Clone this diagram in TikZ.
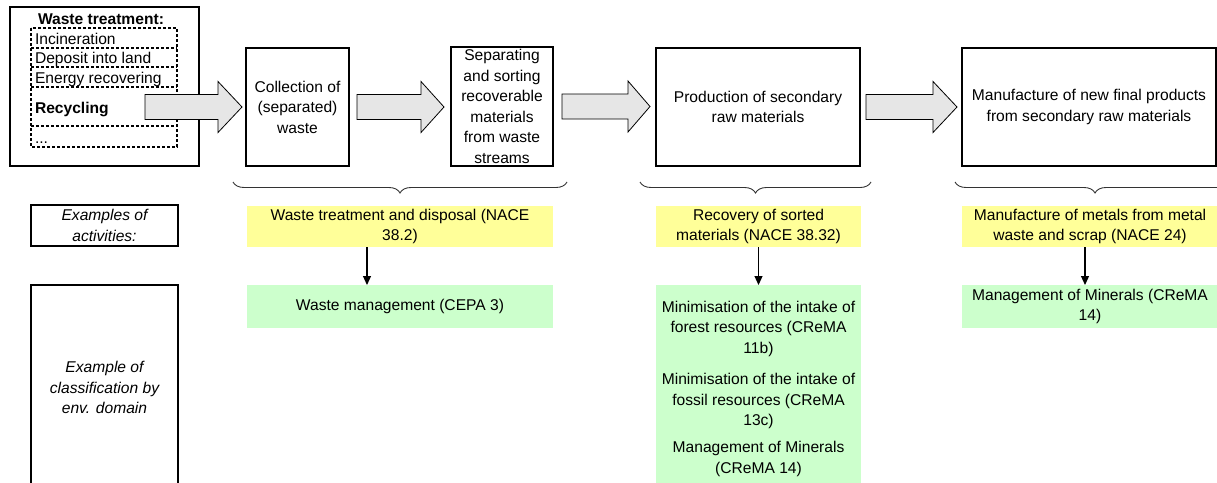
\documentclass[tikz,border=0pt]{standalone}
\usepackage{fontspec}
\setmainfont{Liberation Sans}
\usetikzlibrary{arrows.meta,calc,decorations.pathreplacing}
\definecolor{actyellow}{HTML}{FFFF99}
\definecolor{envgreen}{HTML}{CCFFCC}
\definecolor{arrowgray}{HTML}{E6E6E6}

% block arrow between stages: #1 tail, #2 tip, #3 head length
\newcommand\blockarrow[3]{%
  \draw[bigarrow] let \p1=(#1), \p2=(#2) in
    (\x1,\y1+12.5pt) -- (\x2-#3,\y1+12.5pt) -- (\x2-#3,\y1+25.5pt) -- (\x2,\y1)
    -- (\x2-#3,\y1-25.5pt) -- (\x2-#3,\y1-12.5pt) -- (\x1,\y1-12.5pt) -- cycle;}

\begin{document}
\begin{tikzpicture}[x=1pt,y=-1pt,
  every node/.style={font=\fontsize{15.6}{20.5}\selectfont, inner sep=0pt, outer sep=0pt},
  stage/.style={draw, line width=1.8pt, align=center},
  labelbox/.style={draw, line width=1.8pt, align=center, font=\fontsize{15.6}{20.5}\selectfont\itshape},
  actbox/.style={fill=actyellow, align=center, minimum height=41pt},
  envbox/.style={fill=envgreen, align=center},
  bigarrow/.style={draw=black, line width=0.8pt, fill=arrowgray, line join=miter},
  flow/.style={draw, line width=1.2pt, -{Triangle[length=9pt,width=8pt]}},
  bracket/.style={draw=black!80, line width=0.9pt, decorate,
    decoration={brace, mirror, amplitude=11pt}},
  dashline/.style={draw, line width=1.3pt, dash pattern=on 3pt off 2pt},
  bold/.style={font=\fontsize{15.6}{20.5}\selectfont\bfseries}]

\clip (0,0) rectangle (1217,482);

% ---- process chain ----
\node[stage, minimum width=189pt, minimum height=159pt] (waste) at (104.5,86.5) {};
\node[bold, anchor=base west] (wtitle) at (38,24) {Waste treatment:};
\draw[dashline] (31,28) rectangle (177,147);
\foreach \yy in {48,67,87,126} \draw[dashline] (31,\yy) -- (177,\yy);
\node[anchor=base west] (inc) at (35,44) {Incineration};
\node[anchor=base west] (dep) at (35,63.5) {Deposit into land};
\node[anchor=base west] (ene) at (35,83) {Energy recovering};
\node[bold, anchor=base west] (rec) at (35,113.5) {Recycling};
\node[anchor=base west] (etc) at (35,143) {...};

\node[stage, minimum width=103pt, minimum height=118pt] (coll) at (297.5,107)
  {Collection of\\(separated)\\waste};
\node[stage, minimum width=102pt, minimum height=119pt] (sep) at (502,106.5)
  {Separating\\and sorting\\recoverable\\materials\\from waste\\streams};
\node[stage, minimum width=204pt, minimum height=118pt] (prod) at (758,107)
  {Production of secondary\\raw materials};
\node[stage, minimum width=254pt, minimum height=118pt] (man) at (1089,107)
  {Manufacture of new final products\\from secondary raw materials};

\blockarrow{$(waste.east |- coll.west)+(-54,0)$}{$(coll.west)+(-4,0)$}{24pt}
\blockarrow{$(coll.east)+(8,0)$}{$(sep.west)+(-7,0)$}{23pt}
\blockarrow{$(sep.east)+(9,0)$}{$(prod.west)+(-6,0)$}{22pt}
\blockarrow{$(prod.east)+(6,0)$}{$(man.west)+(-5,0)$}{24pt}

% ---- braces grouping the stages ----
\draw[bracket] ($(coll.south west)+(-13,16)$) -- ($(sep.south east)+(14,16)$);
\draw[bracket] ($(prod.south west)+(-16,16)$) -- ($(prod.south east)+(11,16)$);
\draw[bracket] ($(man.south west)+(-7,16)$) -- ($(man.south east)+(19,16)$);

% ---- row labels ----
\node[labelbox, minimum width=147pt, minimum height=41pt] (exact) at (104.5,225.5)
  {Examples of\\activities:};
\node[labelbox, minimum width=147pt, minimum height=205pt] (excls) at (104.5,387.5)
  {Example of\\classification by\\env. domain};

% ---- activities ----
\node[actbox, minimum width=306pt] (act1) at (400,226.5)
  {Waste treatment and disposal (NACE\\38.2)};
\node[actbox, minimum width=205pt] (act2) at (758.5,226.5)
  {Recovery of sorted\\materials (NACE 38.32)};
\node[actbox, minimum width=256pt] (act3) at (1090,226.5)
  {Manufacture of metals from metal\\waste and scrap (NACE 24)};

% ---- environmental domains ----
\node[envbox, minimum width=306pt, minimum height=43pt] (env1) at (400,306.5)
  {Waste management (CEPA 3)};
\node[envbox, minimum width=205pt, minimum height=205pt] (env2) at (758.5,387.5) {};
\node[align=center] (env2a) at (758.5,328.5)
  {Minimisation of the intake of\\forest resources (CReMA\\11b)};
\node[align=center] (env2b) at (758.5,401)
  {Minimisation of the intake of\\fossil resources (CReMA\\13c)};
\node[align=center] (env2c) at (758.5,459)
  {Management of Minerals\\(CReMA 14)};
\node[envbox, minimum width=256pt, minimum height=43pt] (env3) at (1090,306.5)
  {Management of Minerals (CReMA\\14)};

\draw[flow] ([xshift=-33pt]act1.south) -- ([xshift=-33pt]env1.north);
\draw[flow] (act2.south) -- (env2.north);
\draw[flow] ([xshift=-5pt]act3.south) -- ([xshift=-5pt]env3.north);
\end{tikzpicture}
\end{document}
